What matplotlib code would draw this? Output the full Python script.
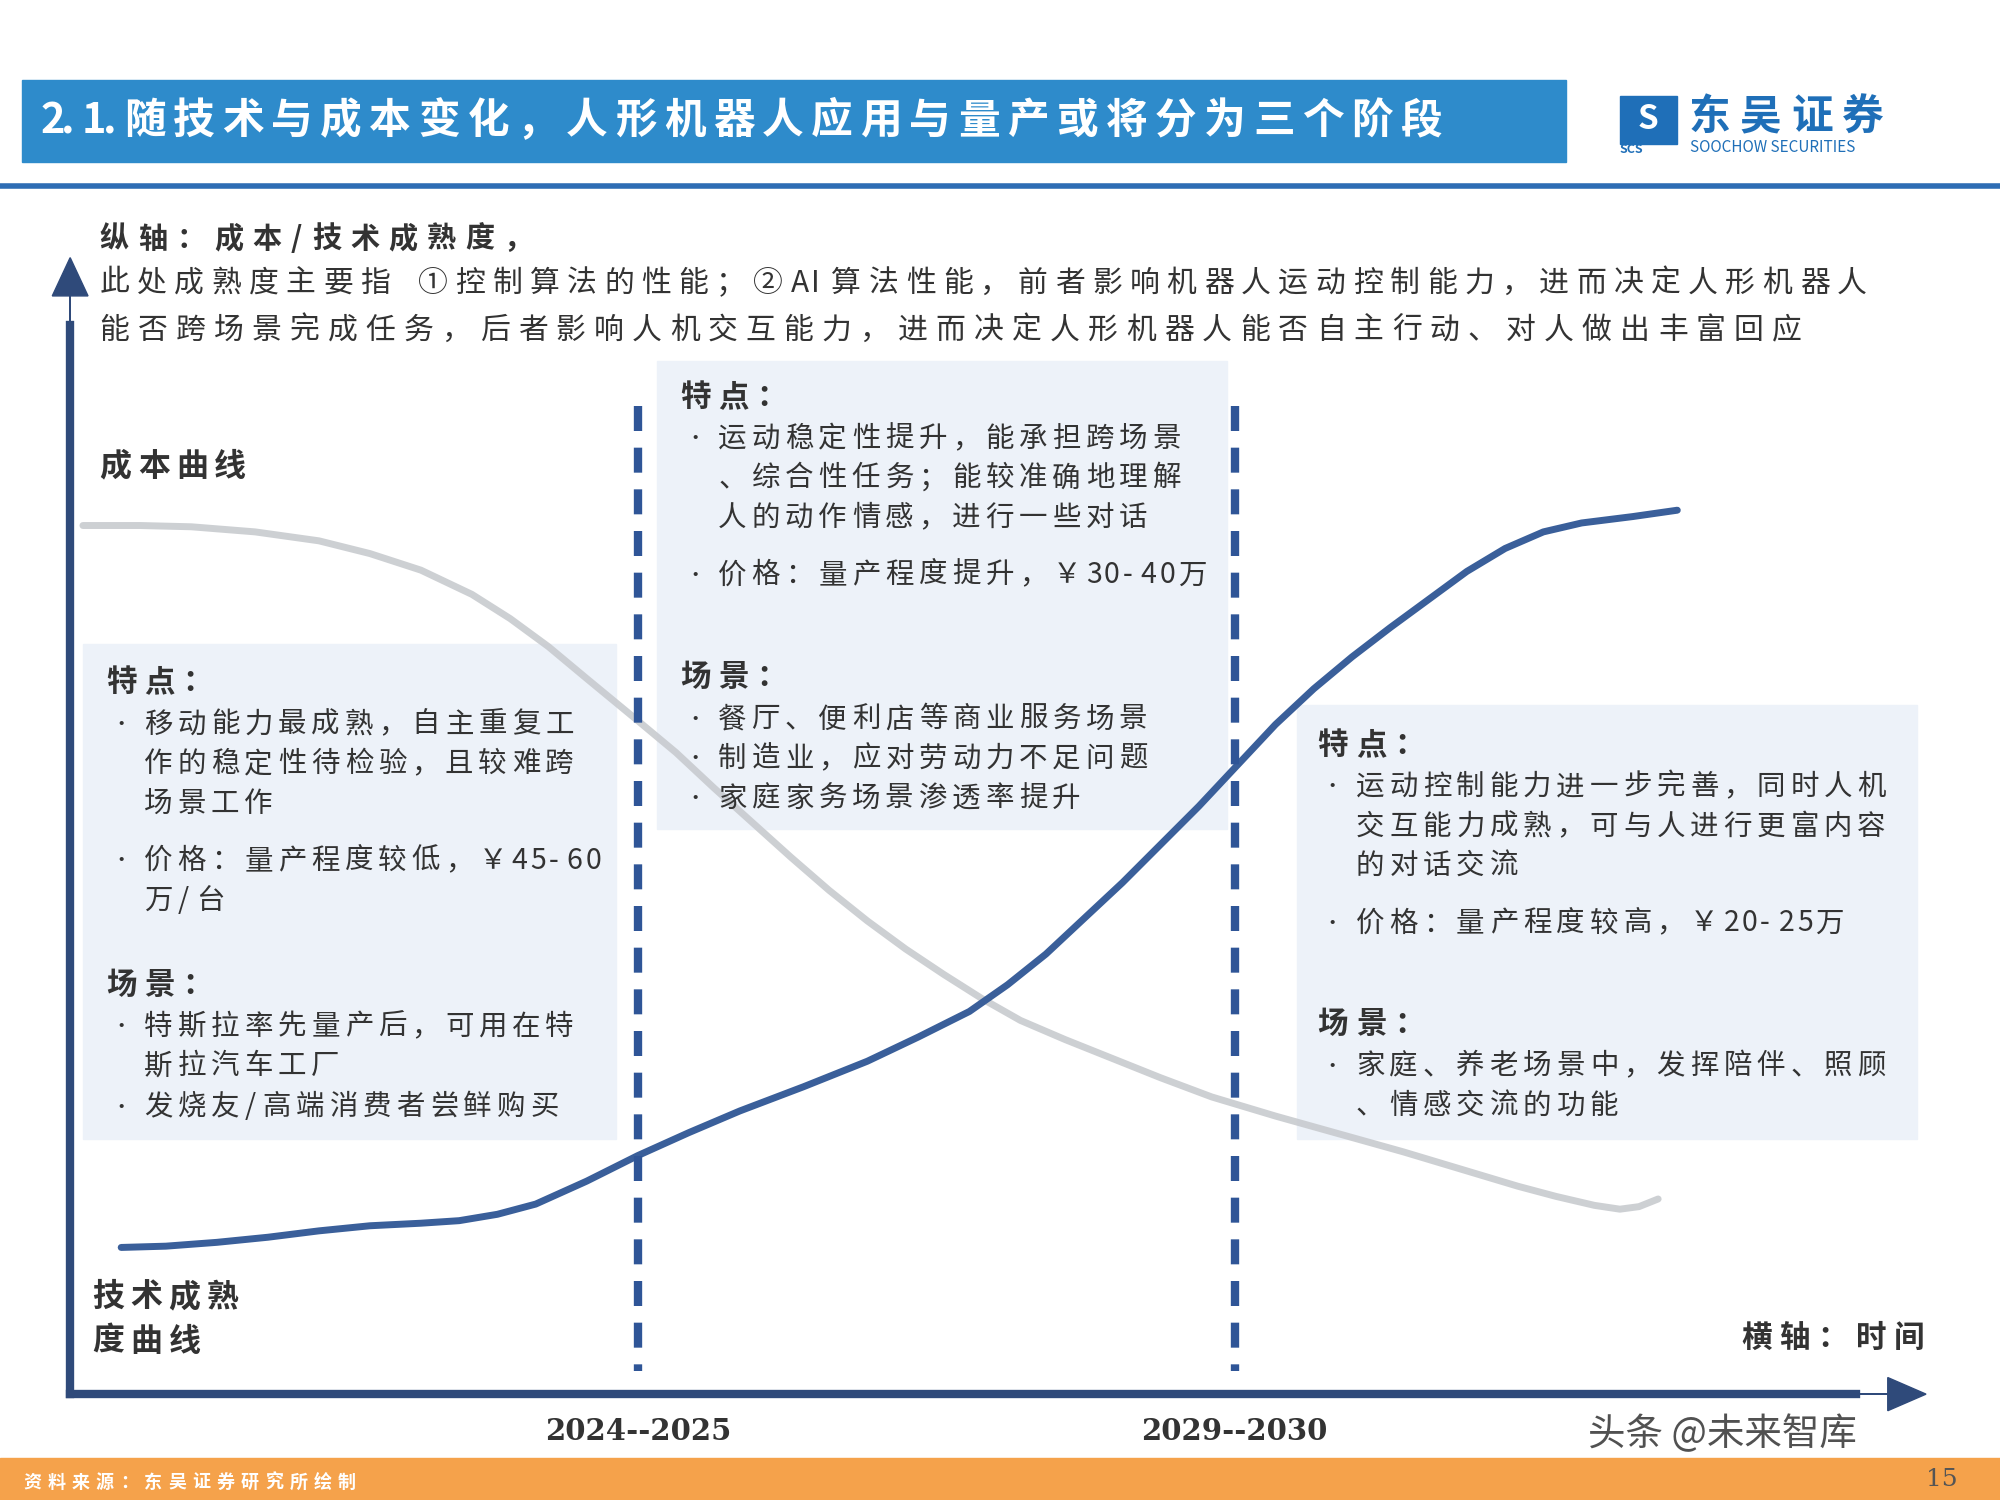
import matplotlib
matplotlib.use("Agg")
import matplotlib.pyplot as plt
from matplotlib.patches import Rectangle, FancyArrow

plt.rcParams['font.family'] = 'Noto Sans CJK SC'

# curves (image pixel frame)
cost_x = [65,110,150,200,250,290,330,370,400,430,460,500,530,560,590,620,650,680,710,740,770,800,835,870,910,950,1000,1050,1100,1150,1190,1220,1250,1270,1285,1300]
cost_y = [412,412,413,417,424,434,447,466,485,507,532,565,590,618,645,672,698,722,744,764,783,800,815,829,845,860,875,889,903,918,930,938,945,948,946,940]
tech_x = [95,130,170,210,250,290,330,360,390,420,460,500,540,580,630,680,720,760,790,820,850,880,910,940,970,1000,1030,1060,1090,1120,1150,1180,1210,1240,1280,1315]
tech_y = [978,977,974,970,965,961,959,957,952,944,926,906,888,871,852,832,813,793,772,748,720,692,662,632,600,568,540,515,492,470,448,430,417,410,405,400]
periods = ["2024--2025", "2029--2030"]
period_x = [500, 968]

fig = plt.figure(figsize=(20, 15), dpi=100)
ax = fig.add_axes([0, 0, 1, 1])
ax.set_xlim(0, 1568); ax.set_ylim(1176, 0); ax.axis('off')
navy = '#2F4A7A'; blue = '#3A5F9A'

def stext(x, y, s, pitch, asc=0.55, **kw):
    for ch in s:
        ax.text(x, y, ch, va='center', ha='left', **kw)
        x += pitch if ord(ch) > 127 else pitch * asc

# header
ax.add_patch(Rectangle((17, 63), 1211, 64, color='#2E8BCB'))
stext(32, 95, "2.1.", 38.5, asc=0.42, color='white', fontsize=30, fontweight='bold')
stext(97, 95, "随技术与成本变化，人形机器人应用与量产或将分为三个阶段", 38.5, color='white',
      fontsize=30, fontweight='bold')
ax.add_patch(Rectangle((1270, 75), 45, 38, color='#1F6FB8'))
ax.text(1292, 94, "S", color='white', fontsize=24, fontweight='bold', va='center', ha='center')
stext(1324, 92, "东吴证券", 40, color='#1F6FB8', fontsize=30, fontweight='bold')
ax.text(1270, 117, "SCS", color='#1F6FB8', fontsize=9, fontweight='bold', va='center')
ax.text(1325, 116, "SOOCHOW SECURITIES", color='#1F6FB8', fontsize=11, va='center')
ax.plot([0, 1568], [146, 146], color='#2E6DB4', lw=4)

# footer
ax.add_patch(Rectangle((0, 1143), 1568, 33, color='#F5A24B'))
stext(18, 1162, "资料来源：东吴证券研究所绘制", 19, color='white', fontsize=13, fontweight='bold')
ax.text(1535, 1160, "15", color='#555555', fontsize=18, va='center', ha='right', family='DejaVu Serif')
ax.text(1245, 1125, "头条 @未来智库", color='#333333', fontsize=27, va='center', alpha=0.85)

# boxes
box = '#EDF2F9'
ax.add_patch(Rectangle((65, 505), 418, 388, color=box))
ax.add_patch(Rectangle((515, 283), 447, 367, color=box))
ax.add_patch(Rectangle((1017, 553), 486, 340, color=box))

# curves
ax.plot(cost_x, cost_y, color='#C8CBCF', lw=5, solid_capstyle='round', alpha=0.9)
ax.plot(tech_x, tech_y, color=blue, lw=5, solid_capstyle='round')

# axes arrows
ax.plot([55, 55], [1093, 255], color=navy, lw=6)
ax.add_patch(FancyArrow(55, 262, 0, -30, width=0, head_width=28, head_length=30, color=navy))
ax.plot([55, 1455], [1093, 1093], color=navy, lw=6)
ax.add_patch(FancyArrow(1450, 1093, 30, 0, width=0, head_width=26, head_length=30, color=navy))

for px, lab in zip(period_x, periods):
    ax.plot([px, px], [318, 1075], color='#2F5597', lw=6, dashes=(3, 2))
    ax.text(px, 1122, lab, fontsize=21, fontweight='bold', ha='center', va='center',
            family='DejaVu Serif', color='#333333')

tk = dict(color='#333333')
stext(78, 187, "纵轴：成本/技术成熟度，", 30, fontsize=21, fontweight='bold', **tk)
stext(78, 222, "此处成熟度主要指 ①控制算法的性能；②AI算法性能，前者影响机器人运动控制能力，进而决定人形机器人", 29.2, fontsize=21.5, **tk)
stext(78, 259, "能否跨场景完成任务，后者影响人机交互能力，进而决定人形机器人能否自主行动、对人做出丰富回应", 29.8, fontsize=21.5, **tk)
stext(78, 366, "成本曲线", 30, fontsize=23, fontweight='bold', **tk)
stext(72, 1017, "技术成熟", 30, fontsize=23, fontweight='bold', **tk)
stext(72, 1052, "度曲线", 30, fontsize=23, fontweight='bold', **tk)
stext(1365, 1049, "横轴：时间", 30, fontsize=22, fontweight='bold', **tk)

P = 26.2
def block(x, y, lines):
    for kind, txt, dy in lines:
        if kind == 'h':
            stext(x, y, txt, 30, fontsize=22, fontweight='bold', **tk)
        elif kind == 'b':
            ax.text(x + 4, y, "•", fontsize=14, va='center', **tk)
            stext(x + 30, y, txt, P, fontsize=20.5, **tk)
        else:
            stext(x + 30, y, txt, P, fontsize=20.5, **tk)
        y += dy

block(83, 535, [('h', "特点：", 33), ('b', "移动能力最成熟，自主重复工", 31), ('c', "作的稳定性待检验，且较难跨", 31),
                ('c', "场景工作", 45), ('b', "价格：量产程度较低，￥45-60", 31), ('c', "万/台", 66),
                ('h', "场景：", 33), ('b', "特斯拉率先量产后，可用在特", 31), ('c', "斯拉汽车工厂", 32),
                ('b', "发烧友/高端消费者尝鲜购买", 31)])
block(533, 311, [('h', "特点：", 33), ('b', "运动稳定性提升，能承担跨场景", 31), ('c', "、综合性任务；能较准确地理解", 31),
                 ('c', "人的动作情感，进行一些对话", 45), ('b', "价格：量产程度提升，￥30-40万", 80),
                 ('h', "场景：", 33), ('b', "餐厅、便利店等商业服务场景", 31), ('b', "制造业，应对劳动力不足问题", 31),
                 ('b', "家庭家务场景渗透率提升", 31)])
block(1033, 584, [('h', "特点：", 33), ('b', "运动控制能力进一步完善，同时人机", 31), ('c', "交互能力成熟，可与人进行更富内容", 31),
                  ('c', "的对话交流", 45), ('b', "价格：量产程度较高，￥20-25万", 79),
                  ('h', "场景：", 33), ('b', "家庭、养老场景中，发挥陪伴、照顾", 31), ('c', "、情感交流的功能", 31)])

fig.savefig("out.png", dpi=100)
